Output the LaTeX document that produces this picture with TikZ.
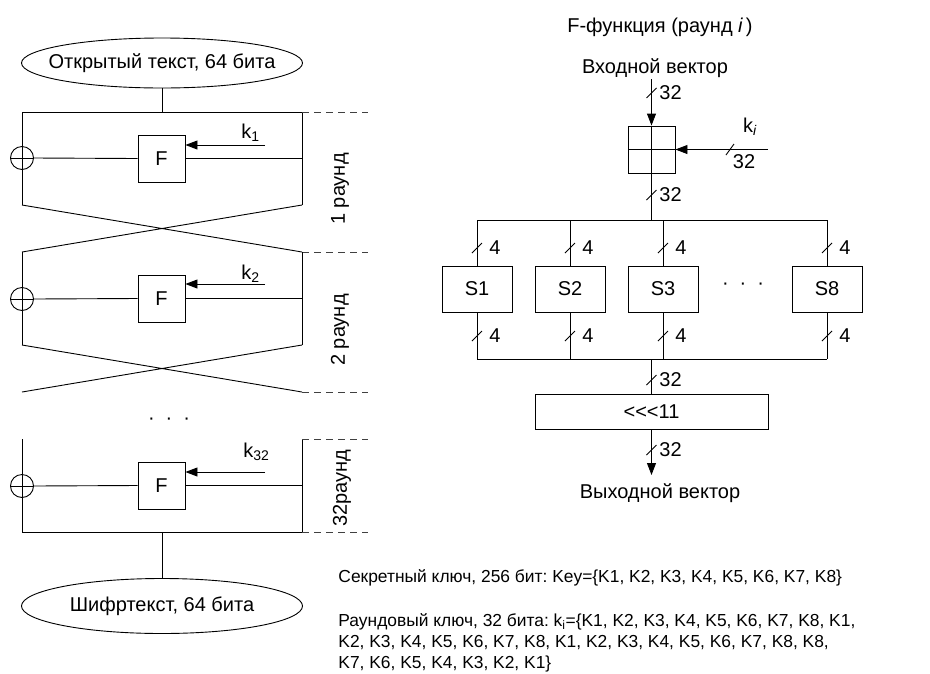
\documentclass[tikz,border=0pt]{standalone}
\usepackage{fontspec}
\setmainfont{Liberation Sans}
\usetikzlibrary{arrows.meta,shapes.geometric}
\frenchspacing
\begin{document}
\begin{tikzpicture}[x=1pt,y=-1pt,line width=0.9pt,
  font=\fontsize{20}{24}\selectfont,
  term/.style={ellipse,draw,minimum width=281pt,inner sep=0pt},
  fbox/.style={draw,minimum size=47pt,inner sep=0pt},
  sbox/.style={draw,minimum width=70pt,minimum height=46pt,inner sep=0pt},
  xorc/.style={circle,draw,minimum size=23pt,inner sep=0pt,
     path picture={\draw (path picture bounding box.north)--(path picture bounding box.south)
                         (path picture bounding box.west)--(path picture bounding box.east);}},
  addbox/.style={draw,minimum size=47pt,inner sep=0pt,
     path picture={\draw (path picture bounding box.north)--(path picture bounding box.south)
                         (path picture bounding box.west)--(path picture bounding box.east);}},
  arr/.style={-{Triangle[length=12pt,width=9pt]}},
  ext/.style={dashed,dash pattern=on 7pt off 5pt,black!75},
  lbl/.style={inner sep=0pt},
  note/.style={inner sep=0pt,font=\fontsize{17.4}{21}\selectfont},
]
\useasboundingbox (0,0) rectangle (930,673);

% ---------------- left: Feistel network ----------------
\node[term,minimum height=50pt] (pt) at (162,63) {\makebox[0pt]{Открытый текст, 64 бита}};
\node[term,minimum height=55pt] (ct) at (162,606) {\makebox[0pt]{Шифртекст, 64 бита}};

% round 1
\coordinate (a1) at (22,112);  \coordinate (b1) at (302,112);
\coordinate (a1e) at (22,205); \coordinate (b1e) at (302,205);
\coordinate (a2) at (22,252);  \coordinate (b2) at (302,252);
\node[xorc] (x1) at (22,158) {};
\node[fbox] (f1) at (161.5,158.5) {F};
\coordinate (k1s) at (265,145);
\node[lbl,anchor=west] (k1) at (241,133) {k\textsubscript{1}};
\draw (pt.south) -- (pt.south |- a1);
\draw (a1) -- (b1);
\draw (a1) -- (x1.north) (x1.south) -- (a1e);
\draw (b1) -- (b1e);
\draw (x1.east) -- (f1.west) (f1.east) -- (f1.east -| b1);
\draw[arr] (k1s) -- (k1s -| f1.east);
\draw (a1e) -- (b2) (b1e) -- (a2);
\coordinate (d1) at (368,112); \draw[ext] (b1) -- (d1);
\coordinate (d2) at (368,252); \draw[ext] (b2) -- (d2);
\node[lbl,rotate=90] (r1) at (340,189) {1 раунд};

% round 2
\coordinate (a2e) at (22,345); \coordinate (b2e) at (302,345);
\coordinate (a3) at (22,392);  \coordinate (b3) at (302,392);
\node[xorc] (x2) at (22,299) {};
\node[fbox] (f2) at (161.5,298.5) {F};
\coordinate (k2s) at (265,284);
\node[lbl,anchor=west] (k2) at (241,274) {k\textsubscript{2}};
\draw (a2) -- (x2.north) (x2.south) -- (a2e);
\draw (b2) -- (b2e);
\draw (x2.east) -- (f2.west) (f2.east) -- (f2.east -| b2);
\draw[arr] (k2s) -- (k2s -| f2.east);
\draw (a2e) -- (b3) (b2e) -- (a3);
\coordinate (d3) at (368,392); \draw[ext] (b3) -- (d3);
\node[lbl,rotate=90] (r2) at (340,330) {2 раунд};

\node[lbl] (dotsL) at (169,421) {·\hskip 11pt·\hskip 11pt·};

% round 32
\coordinate (a32) at (22,439);  \coordinate (b32) at (302,439);
\coordinate (a32e) at (22,532); \coordinate (b32e) at (302,532);
\node[xorc] (x32) at (22,486) {};
\node[fbox] (f32) at (161.5,485.5) {F};
\coordinate (k32s) at (265,472);
\node[lbl,anchor=west] (k32) at (243,452) {k\textsubscript{32}};
\draw (a32) -- (x32.north) (x32.south) -- (a32e);
\draw (b32) -- (b32e);
\draw (a32e) -- (b32e);
\draw (x32.east) -- (f32.west) (f32.east) -- (f32.east -| b32);
\draw[arr] (k32s) -- (k32s -| f32.east);
\coordinate (d4) at (368,439); \draw[ext] (b32) -- (d4);
\coordinate (d5) at (368,532); \draw[ext] (b32e) -- (d5);
\node[lbl,rotate=90] (r32) at (342,488) {32раунд};
\draw (ct.north |- a32e) -- (ct.north);

% ---------------- right: F-function ----------------
\node[lbl] (title) at (660,27) {F-функция (раунд \textit{i\,})};
\node[lbl] (invec) at (655,68) {Входной вектор};
\node[addbox] (add) at (651.5,149.5) {};
\coordinate (inTop) at (651.5,79);
\draw[arr] (inTop) -- (add.north);
\draw (646.5,98) -- (656.5,88);
\node[lbl,anchor=west] (l32a) at (659,93) {32};

\coordinate (kin) at (768,149.5);
\draw[arr] (kin) -- (add.east);
\draw (726,155) -- (734,144);
\node[lbl] (ki) at (750,127) {k\textsubscript{\textit{i}}};
\node[lbl] (l32b) at (744,162) {32};

\coordinate (tb) at (0,220);
\coordinate (bb) at (0,359);
\draw (add.south) -- (add.south |- tb);
\draw (646.5,200) -- (656.5,190);
\node[lbl,anchor=west] (l32c) at (659,195) {32};

\node[sbox] (s1) at (477,289) {S1};
\node[sbox] (s2) at (570,289) {S2};
\node[sbox] (s3) at (663,289) {S3};
\node[sbox] (s8) at (827,289) {S8};
\node[lbl] (dotsR) at (743,286) {·\hskip 11pt·\hskip 11pt·};

\draw (s1 |- tb) -- (s8 |- tb);
\draw (s1 |- bb) -- (s8 |- bb);
\foreach \s in {s1,s2,s3,s8}{
  \draw (\s |- tb) -- (\s.north);
  \draw (\s.south) -- (\s |- bb);
  \draw ([xshift=-5pt,yshift=-5pt]\s |- 0,248) -- ([xshift=5pt,yshift=5pt]\s |- 0,248);
  \draw ([xshift=-5pt,yshift=-5pt]\s |- 0,336) -- ([xshift=5pt,yshift=5pt]\s |- 0,336);
  \node[lbl,anchor=west] at ([xshift=12pt]\s |- 0,248) {4};
  \node[lbl,anchor=west] at ([xshift=12pt]\s |- 0,336) {4};
}

\node[draw,minimum width=233pt,minimum height=35pt,inner sep=0pt] (rot) at (651.5,411.5) {<\kern0pt<\kern0pt<11};
\draw (rot.north |- bb) -- (rot.north);
\draw (646.5,385) -- (656.5,375);
\node[lbl,anchor=west] (l32d) at (659,380) {32};
\coordinate (outTip) at (651.5,475);
\draw[arr] (rot.south) -- (outTip);
\draw (646.5,455) -- (656.5,445);
\node[lbl,anchor=west] (l32e) at (659,450) {32};
\node[lbl] (outvec) at (660,493) {Выходной вектор};

% ---------------- key text ----------------
\node[note,anchor=west] (key) at (338,578) {Секретный ключ, 256 бит: Key=\{K1, K2, K3, K4, K5, K6, K7, K8\}};
\node[note,anchor=north west,align=left] (rk) at (338,613)
 {Раундовый ключ, 32 бита: k\textsubscript{i}=\{K1, K2, K3, K4, K5, K6, K7, K8, K1,\\
  K2, K3, K4, K5, K6, K7, K8, K1, K2, K3, K4, K5, K6, K7, K8, K8,\\
  K7, K6, K5, K4, K3, K2, K1\}};
\end{tikzpicture}
\end{document}
